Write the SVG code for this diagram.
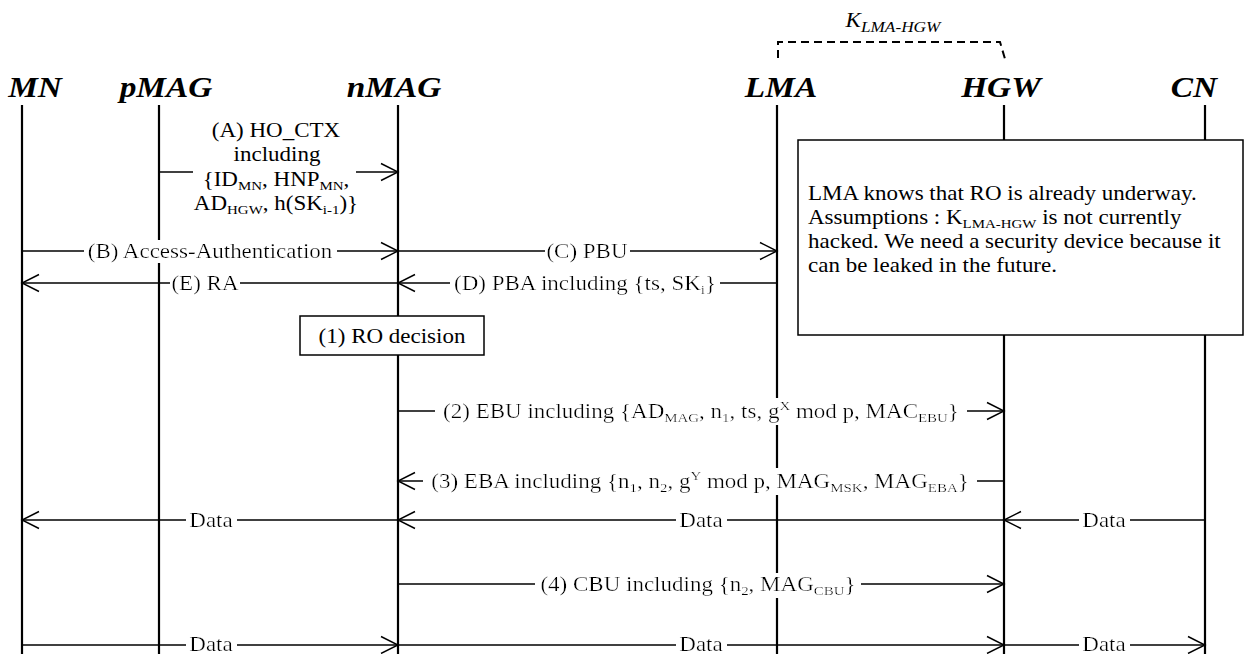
<svg xmlns="http://www.w3.org/2000/svg" width="1246" height="654" viewBox="0 0 1246 654">
<style>
.ll{stroke:#000;stroke-width:2.2;fill:none}
.msg{stroke:#000;stroke-width:1.3;fill:none}
.arr{marker-end:url(#ah)}
.t{font-family:"Liberation Serif","Times New Roman",serif;font-size:20px;fill:#000}
.hd{font-size:29px;font-weight:bold;font-style:italic}
.lbl{filter:url(#bg)}
.lbs{filter:url(#bgs)}
.box{fill:#fff;stroke:#000;stroke-width:1.5}
</style>
<defs>
<marker id="ah" viewBox="-19 -10 21 20" refX="0" refY="0" markerWidth="21" markerHeight="20" markerUnits="userSpaceOnUse" orient="auto">
<path d="M-17,-8.5 L0,0 L-17,8.5" fill="none" stroke="#000" stroke-width="1.4"/>
</marker>
<filter id="bg" x="-0.015" y="0" width="1.03" height="1"><feFlood flood-color="#fff"/><feComposite in="SourceGraphic"/></filter>
<filter id="bgs" x="-0.07" y="0" width="1.14" height="1"><feFlood flood-color="#fff"/><feComposite in="SourceGraphic"/></filter>
</defs>
<rect width="1246" height="654" fill="#fff"/>

<g id="key">
<path d="M778,58 V42 H1000 L1005,59" fill="none" stroke="#000" stroke-width="2" stroke-dasharray="8,5"/>
<text class="t" font-style="italic" font-size="22" transform="translate(893,27) scale(1.15,1)" text-anchor="middle">K<tspan font-size="15" dy="5">LMA-HGW</tspan></text>
</g>

<g id="MN"><line class="ll" x1="22" y1="105" x2="22" y2="654"/><text class="t hd" transform="translate(35,97) scale(1.15,1)" text-anchor="middle">MN</text></g>
<g id="pMAG"><line class="ll" x1="159" y1="105" x2="159" y2="654"/><text class="t hd" transform="translate(166,97) scale(1.15,1)" text-anchor="middle">pMAG</text></g>
<g id="nMAG"><line class="ll" x1="398" y1="105" x2="398" y2="654"/><text class="t hd" transform="translate(394,97) scale(1.15,1)" text-anchor="middle">nMAG</text></g>
<g id="LMA"><line class="ll" x1="777" y1="105" x2="777" y2="654"/><text class="t hd" transform="translate(781,97) scale(1.15,1)" text-anchor="middle">LMA</text></g>
<g id="HGW"><line class="ll" x1="1004" y1="105" x2="1004" y2="654"/><text class="t hd" transform="translate(1001,97) scale(1.15,1)" text-anchor="middle">HGW</text></g>
<g id="CN"><line class="ll" x1="1205" y1="105" x2="1205" y2="654"/><text class="t hd" transform="translate(1194,97) scale(1.15,1)" text-anchor="middle">CN</text></g>

<g id="connectors">
<path class="msg" d="M159,172 H193"/>
<path class="msg arr" d="M356,172 H398"/>
<path class="msg arr" d="M22,251 H398"/>
<path class="msg arr" d="M398,251 H777"/>
<path class="msg arr" d="M398,283 H22"/>
<path class="msg arr" d="M777,283 H398"/>
<path class="msg arr" d="M398,411 H1004"/>
<path class="msg arr" d="M1004,481 H398"/>
<path class="msg arr" d="M1205,520 H1004"/>
<path class="msg arr" d="M1004,520 H398"/>
<path class="msg arr" d="M398,520 H22"/>
<path class="msg arr" d="M398,584 H1004"/>
<path class="msg arr" d="M22,645 H398"/>
<path class="msg arr" d="M398,645 H1004"/>
<path class="msg arr" d="M1004,645 H1205"/>
</g>

<g id="labels">
<text class="t" transform="translate(276,137) scale(1.15,1)" text-anchor="middle">(A) HO_CTX</text>
<text class="t" transform="translate(277,161) scale(1.15,1)" text-anchor="middle">including</text>
<text class="t" transform="translate(276,186) scale(1.15,1)" text-anchor="middle">{ID<tspan font-size="13" dy="4">MN</tspan><tspan dy="-4">, HNP</tspan><tspan font-size="13" dy="4">MN</tspan><tspan dy="-4">,</tspan></text>
<text class="t" transform="translate(276,210) scale(1.15,1)" text-anchor="middle">AD<tspan font-size="13" dy="4">HGW</tspan><tspan dy="-4">, h(SK</tspan><tspan font-size="13" dy="4">i-1</tspan><tspan dy="-4">)}</tspan></text>

<text class="t lbl" transform="translate(210,258) scale(1.15,1)" text-anchor="middle">(B) Access-Authentication</text>
<text class="t lbl" transform="translate(587,258) scale(1.15,1)" text-anchor="middle">(C) PBU</text>
<text class="t lbl" transform="translate(205,290) scale(1.15,1)" text-anchor="middle">(E) RA</text>
<text class="t lbl" transform="translate(585,290) scale(1.15,1)" text-anchor="middle">(D) PBA including {ts, SK<tspan font-size="13" dy="4">i</tspan><tspan dy="-4">}</tspan></text>

<text class="t lbl" transform="translate(701,418) scale(1.15,1)" text-anchor="middle">(2) EBU including {AD<tspan font-size="13" dy="4">MAG</tspan><tspan dy="-4">, n</tspan><tspan font-size="13" dy="4">1</tspan><tspan dy="-4">, ts, g</tspan><tspan font-size="13" dy="-8">X</tspan><tspan dy="8"> mod p, MAC</tspan><tspan font-size="13" dy="4">EBU</tspan><tspan dy="-4">}</tspan></text>
<text class="t lbl" transform="translate(700,488) scale(1.15,1)" text-anchor="middle">(3) EBA including {n<tspan font-size="13" dy="4">1</tspan><tspan dy="-4">, n</tspan><tspan font-size="13" dy="4">2</tspan><tspan dy="-4">, g</tspan><tspan font-size="13" dy="-8">Y</tspan><tspan dy="8"> mod p, MAG</tspan><tspan font-size="13" dy="4">MSK</tspan><tspan dy="-4">, MAG</tspan><tspan font-size="13" dy="4">EBA</tspan><tspan dy="-4">}</tspan></text>

<text class="t lbs" transform="translate(1104,527) scale(1.15,1)" text-anchor="middle">Data</text>
<text class="t lbs" transform="translate(701,527) scale(1.15,1)" text-anchor="middle">Data</text>
<text class="t lbs" transform="translate(211,527) scale(1.15,1)" text-anchor="middle">Data</text>

<text class="t lbl" transform="translate(698,591) scale(1.15,1)" text-anchor="middle">(4) CBU including {n<tspan font-size="13" dy="4">2</tspan><tspan dy="-4">, MAG</tspan><tspan font-size="13" dy="4">CBU</tspan><tspan dy="-4">}</tspan></text>

<text class="t lbs" transform="translate(211,651) scale(1.15,1)" text-anchor="middle">Data</text>
<text class="t lbs" transform="translate(701,651) scale(1.15,1)" text-anchor="middle">Data</text>
<text class="t lbs" transform="translate(1104,651) scale(1.15,1)" text-anchor="middle">Data</text>
</g>

<g id="ro-decision">
<rect class="box" x="300" y="316" width="184" height="39"/>
<text class="t" transform="translate(392,343) scale(1.15,1)" text-anchor="middle">(1) RO decision</text>
</g>

<g id="note">
<rect class="box" x="798" y="140" width="445" height="195"/>
<text class="t" transform="translate(808,200) scale(1.15,1)">LMA knows that RO is already underway.</text>
<text class="t" transform="translate(808,224) scale(1.15,1)">Assumptions : K<tspan font-size="13" dy="4">LMA-HGW</tspan><tspan dy="-4"> is not currently</tspan></text>
<text class="t" transform="translate(808,248) scale(1.15,1)">hacked. We need a security device because it</text>
<text class="t" transform="translate(808,272) scale(1.15,1)">can be leaked in the future.</text>
</g>
</svg>
